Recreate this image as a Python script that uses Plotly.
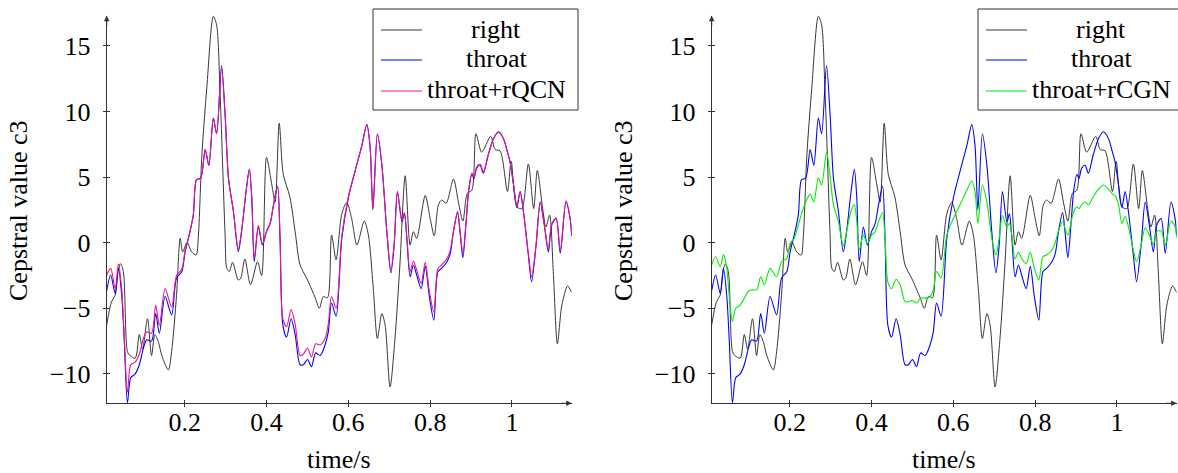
import plotly.graph_objects as go

# ---------------- data ----------------
t_right = [0.009, 0.021, 0.030, 0.038, 0.043, 0.050, 0.060, 0.066, 0.079, 0.089,
           0.097, 0.109, 0.119, 0.127, 0.136, 0.144, 0.160, 0.168, 0.180, 0.189,
           0.195, 0.206, 0.217, 0.228, 0.233, 0.242, 0.254, 0.270, 0.278, 0.286,
           0.2985, 0.303, 0.309, 0.317, 0.331, 0.337, 0.347, 0.361, 0.378, 0.388,
           0.400, 0.413, 0.421, 0.431, 0.441, 0.457, 0.470, 0.482, 0.498, 0.519,
           0.529, 0.539, 0.549, 0.559, 0.570, 0.584, 0.596, 0.608, 0.621, 0.639,
           0.649, 0.661, 0.671, 0.682, 0.690, 0.702, 0.714, 0.726, 0.739, 0.751,
           0.759, 0.767, 0.788, 0.800, 0.810, 0.820, 0.828, 0.839, 0.857, 0.869,
           0.880, 0.891, 0.902, 0.912, 0.926, 0.948, 0.959, 0.971, 0.989, 0.998,
           1.012, 1.024, 1.040, 1.053, 1.062, 1.075, 1.083, 1.092, 1.101, 1.111,
           1.122, 1.136, 1.146]
v_right = [-6.3, -4.5, -4.0, -2.0, -1.6, -2.2, -8.3, -8.6, -8.8, -7.0,
           -8.1, -5.8, -8.6, -7.0, -7.6, -8.6, -9.7, -8.3, -4.0, 0.33,
           -0.7, 0.03, -0.7, -0.94, 0.3, 6.7, 11.8, 17.25, 16.6, 11.8,
           0.8, -1.96, -2.2, -1.5, -2.85, -2.7, -1.25, -3.2, -1.45, -2.5,
           6.5, 4.4, 3.1, 9.1, 5.2, 3.5, 0.84, -1.7, -2.7, -4.2,
           -5.0, -4.1, -4.2, 0.58, -1.3, 2.2, 3.07, 1.85, -0.18, 1.65,
           0.58, -3.5, -7.3, -5.4, -6.3, -11.0, -7.3, -1.7, 5.1, -0.18,
           0.84, 0.33, 3.6, 1.85, 0.53, 2.87, 3.25, 3.0, 4.85, 3.1,
           1.65, 3.76, 4.0, 8.3, 6.9, 8.1, 7.1, 7.0, 3.9, 6.2,
           2.74, 2.6, 6.0, 2.6, 5.5, 2.6, 1.2, 2.1, -2.2, -7.7,
           -4.75, -3.3, -3.8]

t_throat = [0.009, 0.019, 0.030, 0.038, 0.046, 0.052, 0.060, 0.068, 0.079, 0.089,
            0.099, 0.107, 0.119, 0.129, 0.138, 0.152, 0.168, 0.180, 0.193, 0.201,
            0.211, 0.221, 0.229, 0.239, 0.250, 0.259, 0.270, 0.278, 0.290, 0.299,
            0.307, 0.319, 0.331, 0.339, 0.350, 0.358, 0.364, 0.370, 0.380, 0.390,
            0.400, 0.409, 0.417, 0.427, 0.433, 0.440, 0.449, 0.460, 0.470, 0.482,
            0.490, 0.500, 0.510, 0.520, 0.531, 0.543, 0.551, 0.559, 0.570, 0.584,
            0.600, 0.616, 0.633, 0.645, 0.653, 0.660, 0.671, 0.682, 0.694, 0.704,
            0.712, 0.720, 0.731, 0.737, 0.743, 0.751, 0.759, 0.767, 0.778, 0.788,
            0.798, 0.809, 0.819, 0.828, 0.841, 0.849, 0.857, 0.867, 0.873, 0.880,
            0.888, 0.894, 0.902, 0.907, 0.914, 0.922, 0.930, 0.942, 0.955, 0.967,
            0.979, 0.989, 0.995, 1.004, 1.012, 1.020, 1.028, 1.040, 1.048, 1.059,
            1.069, 1.079, 1.089, 1.097, 1.108, 1.118, 1.132, 1.142, 1.146]
v_throat = [-3.7, -2.46, -3.86, -1.96, -4.0, -7.3, -12.2, -10.3, -10.0, -9.3,
            -8.05, -7.4, -7.5, -5.4, -6.9, -4.1, -5.5, -2.7, -2.2, -0.7,
            0.58, 2.1, 4.8, 4.9, 7.1, 5.9, 9.5, 8.3, 13.5, 9.6,
            4.9, 2.4, -0.69, 0.84, 3.9, 5.6, 3.4, -1.45, 1.2, -0.18,
            0.84, 1.47, 2.87, 4.3, 0.33, -6.3, -7.2, -5.8, -7.0, -9.3,
            -9.3, -8.9, -9.45, -8.4, -8.6, -7.8, -6.8, -4.6, -5.6, 0.33,
            3.4, 5.4, 7.4, 9.0, 7.4, 2.5, 8.3, 5.9, 0.84, -2.3,
            -0.18, 3.9, 1.6, 2.2, 0.33, -2.6, -1.7, -2.46, -3.5, -1.8,
            -4.1, -5.9, -2.2, -1.96, -1.45, -0.85, 0.84, 2.3, 0.84, -1.14,
            1.6, 3.9, 5.2, 4.9, 5.7, 5.9, 5.3, 6.7, 7.95, 8.46,
            7.95, 6.9, 6.2, 4.4, 2.67, 3.9, 2.36, -0.94, -2.97, -0.18,
            3.1, 1.35, -0.7, 1.35, 1.85, -0.8, 3.1, 1.85, 0.5]
v_rqcn = [-2.5, -1.96, -3.5, -1.6, -3.5, -7.0, -11.4, -9.3, -9.1, -8.5,
          -7.3, -6.8, -6.9, -4.75, -6.3, -3.5, -4.9, -2.5, -2.0, -0.6,
          0.6, 2.1, 4.8, 4.9, 7.1, 5.9, 9.5, 8.3, 13.3, 9.6,
          4.9, 2.4, -0.5, 0.9, 3.9, 5.6, 3.4, -1.2, 1.3, -0.1,
          0.9, 1.5, 2.9, 4.3, 0.4, -5.8, -6.4, -5.1, -6.2, -8.6,
          -8.5, -8.05, -8.7, -7.7, -7.8, -7.3, -6.2, -4.1, -5.0, 0.5,
          3.5, 5.4, 7.4, 9.0, 7.4, 2.6, 8.3, 5.9, 0.9, -2.1,
          -0.1, 3.9, 1.7, 2.3, 0.4, -2.2, -1.4, -2.1, -3.1, -1.5,
          -3.7, -5.26, -1.96, -1.7, -1.2, -0.6, 0.9, 2.4, 0.9, -0.8,
          1.7, 4.0, 5.3, 5.0, 5.8, 6.0, 5.4, 6.7, 7.95, 8.4,
          7.95, 6.9, 6.2, 4.4, 2.8, 3.9, 2.4, -0.8, -2.6, -0.1,
          3.1, 1.4, -0.5, 1.4, 1.9, -0.6, 3.2, 1.9, 0.6]
v_rcgn = [-1.7, -1.07, -1.83, -0.9, -1.9, -4.0, -6.0, -5.0, -4.75, -4.24,
          -3.7, -3.6, -3.6, -2.6, -3.2, -1.96, -2.6, -1.45, -1.2, -0.05,
          0.33, 1.35, 2.2, 3.1, 3.7, 3.1, 4.95, 4.4, 6.9, 5.0,
          2.87, 1.6, -0.23, 0.84, 2.4, 2.9, 1.6, -0.56, 0.58, -0.05,
          0.58, 0.84, 1.6, 2.3, 0.33, -3.0, -3.5, -2.8, -3.2, -4.5,
          -4.5, -4.4, -4.6, -4.2, -4.24, -4.1, -3.6, -2.2, -2.7, 0.58,
          1.85, 2.87, 4.0, 4.7, 3.9, 1.47, 4.4, 3.1, 0.33, -0.94,
          0.33, 2.06, 1.2, 1.47, 0.58, -1.24, -0.74, -1.2, -1.6, -0.74,
          -1.96, -2.85, -1.07, -0.94, -0.56, 0.0, 0.9, 1.6, 1.1, 0.58,
          1.6, 2.36, 2.74, 2.6, 2.9, 3.1, 2.87, 3.5, 4.1, 4.4,
          4.1, 3.7, 3.6, 2.87, 1.47, 2.0, 1.2, -0.56, -1.45, -0.18,
          1.14, 0.58, -0.13, 0.84, 0.9, -0.18, 1.65, 1.2, 0.4]

x_tick_vals = [0.2, 0.4, 0.6, 0.8, 1.0]
x_tick_text = ["0.2", "0.4", "0.6", "0.8", "1"]
y_tick_vals = [-10, -5, 0, 5, 10, 15]
y_tick_text = ["\u221210", "\u22125", "0", "5", "10", "15"]
legend_left = ["right", "throat", "throat+rQCN"]
legend_right = ["right", "throat", "throat+rCGN"]

# ---------------- styling ----------------
W, H = 1178, 473
FONT = "'Liberation Serif', 'Times New Roman', Times, serif"
FS = 26
C_RIGHT = "#383838"
C_THROAT = "#0000ff"
C_QCN = "#f0148c"
C_CGN = "#00ee00"
AXC = "#333333"
X_RANGE = [0.0093, 1.146]
Y_RANGE = [-12.24, 17.3]
DOM_L = [106.7 / W, 571.7 / W]
DOM_R = [711.7 / W, 1176.7 / W]
DOM_Y = [1 - 403.3 / H, 1 - 15.7 / H]

fig = go.Figure()

def add_panel(xa, ya, third_y, third_color):
    fig.add_trace(go.Scatter(x=t_right, y=v_right, mode="lines", xaxis=xa, yaxis=ya,
                             line=dict(color=C_RIGHT, width=1, shape="spline", smoothing=0.8),
                             showlegend=False, hoverinfo="skip"))
    fig.add_trace(go.Scatter(x=t_throat, y=v_throat, mode="lines", xaxis=xa, yaxis=ya,
                             line=dict(color=C_THROAT, width=1.1, shape="spline", smoothing=0.8),
                             showlegend=False, hoverinfo="skip"))
    fig.add_trace(go.Scatter(x=t_throat, y=third_y, mode="lines", xaxis=xa, yaxis=ya,
                             line=dict(color=third_color, width=1.1, shape="spline", smoothing=0.8),
                             showlegend=False, hoverinfo="skip"))

add_panel("x", "y", v_rqcn, C_QCN)
add_panel("x2", "y2", v_rcgn, C_CGN)
# empty traces to instantiate the overlay (inner tick) axes
fig.add_trace(go.Scatter(x=[], y=[], xaxis="x3", yaxis="y3", showlegend=False))
fig.add_trace(go.Scatter(x=[], y=[], xaxis="x4", yaxis="y4", showlegend=False))

tickfont = dict(family=FONT, size=FS, color="black")

def main_x(dom, anchor):
    return dict(domain=dom, range=X_RANGE, anchor=anchor, showline=True, linecolor=AXC,
                linewidth=1, ticks="outside", ticklen=3, tickcolor=AXC, tickwidth=1,
                tickvals=x_tick_vals, ticktext=x_tick_text, tickfont=tickfont,
                showgrid=False, zeroline=False, fixedrange=True, ticklabelstandoff=-8)

def main_y(anchor):
    return dict(domain=DOM_Y, range=Y_RANGE, anchor=anchor, showline=True, linecolor=AXC,
                linewidth=1, ticks="outside", ticklen=3, tickcolor=AXC, tickwidth=1,
                tickvals=y_tick_vals, ticktext=y_tick_text, tickfont=tickfont,
                showgrid=False, zeroline=False, fixedrange=True, ticklabelstandoff=7)

def inner_x(dom, over, anchor):
    return dict(domain=dom, range=X_RANGE, overlaying=over, anchor=anchor, showline=False,
                ticks="inside", ticklen=3, tickcolor=AXC, tickwidth=1, tickvals=x_tick_vals,
                showticklabels=False, showgrid=False, zeroline=False, fixedrange=True)

def inner_y(over, anchor):
    return dict(domain=DOM_Y, range=Y_RANGE, overlaying=over, anchor=anchor, showline=False,
                ticks="inside", ticklen=3, tickcolor=AXC, tickwidth=1, tickvals=y_tick_vals,
                showticklabels=False, showgrid=False, zeroline=False, fixedrange=True)

fig.update_layout(
    width=W, height=H, autosize=False,
    margin=dict(l=0, r=0, t=0, b=0),
    paper_bgcolor="white", plot_bgcolor="white",
    font=dict(family=FONT, size=FS, color="black"),
    xaxis=main_x(DOM_L, "y"), yaxis=main_y("x"),
    xaxis2=main_x(DOM_R, "y2"), yaxis2=main_y("x2"),
    xaxis3=inner_x(DOM_L, "x", "y"), yaxis3=inner_y("y", "x"),
    xaxis4=inner_x(DOM_R, "x2", "y2"), yaxis4=inner_y("y2", "x2"),
)

annotations = []
shapes = []
for k, (xa, ya, off) in enumerate([("x", "y", 0), ("x2", "y2", 605)]):
    # axis arrowheads
    annotations.append(dict(x=X_RANGE[1], y=Y_RANGE[0], xref=xa, yref=ya, ax=-12, ay=0,
                            showarrow=True, arrowhead=2, arrowsize=1.1, arrowwidth=1,
                            arrowcolor=AXC, text="", standoff=0))
    annotations.append(dict(x=X_RANGE[0], y=Y_RANGE[1], xref=xa, yref=ya, ax=0, ay=12,
                            showarrow=True, arrowhead=2, arrowsize=1.1, arrowwidth=1,
                            arrowcolor=AXC, text="", standoff=0))
    # axis titles
    annotations.append(dict(x=(339.2 + off) / W, y=1 - 459 / H, xref="paper", yref="paper",
                            text="time/s", showarrow=False, xanchor="center", yanchor="middle",
                            font=dict(family=FONT, size=FS, color="black")))
    annotations.append(dict(x=(19 + off) / W, y=1 - 211 / H, xref="paper", yref="paper",
                            text="Cepstral value c3", textangle=-90, showarrow=False,
                            xanchor="center", yanchor="middle",
                            font=dict(family=FONT, size=FS, color="black")))
    # legend box
    shapes.append(dict(type="rect", xref="paper", yref="paper",
                       x0=(373 + off) / W, x1=(578 + off) / W, y0=1 - 110 / H, y1=1 - 9 / H,
                       line=dict(color=AXC, width=1), fillcolor="white", layer="above"))
    names = legend_left if k == 0 else legend_right
    cols = [C_RIGHT, C_THROAT, C_QCN if k == 0 else C_CGN]
    for name, col, yy in zip(names, cols, [30, 60, 91]):
        shapes.append(dict(type="line", xref="paper", yref="paper",
                           x0=(381 + off) / W, x1=(422 + off) / W, y0=1 - yy / H, y1=1 - yy / H,
                           line=dict(color=col, width=1.1), layer="above"))
        annotations.append(dict(x=(496 + off) / W, y=1 - (yy - 1) / H, xref="paper", yref="paper",
                                text=name, showarrow=False, xanchor="center", yanchor="middle",
                                font=dict(family=FONT, size=FS, color="black")))

fig.update_layout(annotations=annotations, shapes=shapes)
fig.write_html("out.html")
